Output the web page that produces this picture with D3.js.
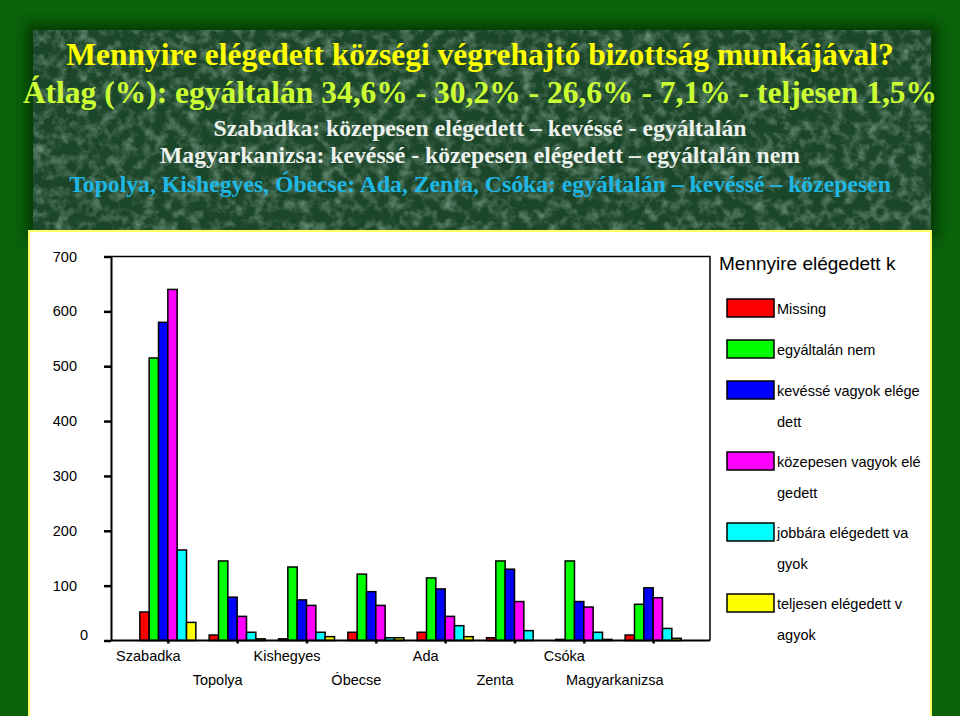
<!DOCTYPE html>
<html><head><meta charset="utf-8">
<script src="https://cdn.jsdelivr.net/npm/d3@7/dist/d3.min.js"></script>
<style>html,body{margin:0;padding:0;background:#0a600a}svg{display:block}</style>
</head><body>
<svg id="c" width="960" height="716"></svg>
<script>
// ---------- data ----------
const categories = ["Szabadka","Topolya","Kishegyes","Óbecse","Ada","Zenta","Csóka","Magyarkanizsa"];
const seriesNames = ["Missing","egyáltalán nem","kevéssé vagyok elégedett","közepesen vagyok elégedett","jobbára elégedett vagyok","teljesen elégedett vagyok"];
const seriesColors = ["#ff0000","#00ff00","#0000ff","#ff00ff","#00ffff","#ffff00"];
const missing       = [52, 10,   3,  15,  15,   5,   2,  10];
const egyaltalanNem = [515, 145, 134, 121, 114, 145, 145, 66];
const kevesse       = [580, 79,  74,  89,  94,  130, 71,  96];
const kozepesen     = [640, 44,  64,  64,  44,  71,  61,  78];
const jobbara       = [165, 15,  15,  5,   27,  18,  15,  22];
const teljesen      = [33,  3,   7,   5,   7,   0,   2,   4];
const yTicks = [0,100,200,300,400,500,600,700];
const legendTitle = "Mennyire elégedett községi végrehajtó bizottság munkájával";
const titleLines = [
  "Mennyire elégedett községi végrehajtó bizottság munkájával?",
  "Átlag (%): egyáltalán 34,6% - 30,2% - 26,6% - 7,1% - teljesen 1,5%",
  "Szabadka: közepesen elégedett – kevéssé - egyáltalán",
  "Magyarkanizsa: kevéssé - közepesen elégedett – egyáltalán nem",
  "Topolya, Kishegyes, Óbecse: Ada, Zenta, Csóka: egyáltalán – kevéssé – közepesen"
];

const seriesValues = [missing, egyaltalanNem, kevesse, kozepesen, jobbara, teljesen];
const table = [];
categories.forEach((c, i) => seriesNames.forEach((s, j) => table.push({cat: c, ser: s, val: seriesValues[j][i], color: seriesColors[j]})));

// ---------- canvas ----------
const svg = d3.select("#c");
const defs = svg.append("defs");
const f = defs.append("filter").attr("id","tex").attr("x",0).attr("y",0).attr("width",1).attr("height",1);
f.append("feTurbulence").attr("type","fractalNoise").attr("baseFrequency","0.09").attr("numOctaves",4).attr("seed",7).attr("result","n");
f.append("feColorMatrix").attr("in","n").attr("type","matrix")
  .attr("values","0 0 0 0 0.32  0 0 0 0 0.50  0 0 0 0 0.38  2.0 0 0 0 -0.85");
const sh = defs.append("filter").attr("id","sh").attr("x","-10%").attr("y","-10%").attr("width","120%").attr("height","120%");
sh.append("feGaussianBlur").attr("stdDeviation",6);

svg.append("rect").attr("width",960).attr("height",716).attr("fill","#0a620a");
svg.append("rect").attr("x",26).attr("y",24).attr("width",912).attr("height",214).attr("fill","#002a00").attr("opacity",0.7).attr("filter","url(#sh)");
svg.append("rect").attr("x",33).attr("y",30).attr("width",898).attr("height",202).attr("fill","#1c462a");
svg.append("rect").attr("x",33).attr("y",30).attr("width",898).attr("height",202).attr("fill","#000").attr("filter","url(#tex)").attr("opacity",0.65);
svg.append("rect").attr("x",29).attr("y",231).attr("width",902).attr("height",490)
  .attr("fill","#ffffff").attr("stroke","#ffff66").attr("stroke-width",2);

// ---------- titles ----------
const tStyles = [
  {size: 31.5, fill: "#ffff00", y: 65},
  {size: 31.5, fill: "#ccff33", y: 103},
  {size: 23.7, fill: "#eef2ee", y: 136},
  {size: 23.7, fill: "#eef2ee", y: 163},
  {size: 23.7, fill: "#1fb8e6", y: 192}
];
svg.append("g").selectAll("text").data(titleLines).join("text")
  .attr("x", 480).attr("y", (d,i) => tStyles[i].y)
  .attr("text-anchor","middle")
  .attr("font-family","'Liberation Serif','Times New Roman',serif").attr("font-weight","bold")
  .attr("font-size", (d,i) => tStyles[i].size).attr("fill", (d,i) => tStyles[i].fill)
  .text(d => d);

// ---------- scales ----------
const plot = {left: 111, right: 710, top: 256.5, bottom: 640.5};
const x = d3.scalePoint().domain(categories).range([plot.left, plot.right]).padding(0.82);
const xs = d3.scaleBand().domain(seriesNames).range([-28, 28]);
const y = d3.scaleLinear().domain([0, 700]).range([plot.bottom, plot.top]);
const font = "'Liberation Sans',Arial,sans-serif";

// frame (top & right)
svg.append("path").attr("d", `M${plot.left},${plot.top}H${plot.right}V${plot.bottom}`)
  .attr("fill","none").attr("stroke","#000").attr("stroke-width",1.5);

// bars
svg.append("g").selectAll("rect").data(table.filter(d => d.val > 0)).join("rect")
  .attr("x", d => x(d.cat) + xs(d.ser))
  .attr("y", d => y(d.val))
  .attr("width", xs.bandwidth())
  .attr("height", d => y(0) - y(d.val))
  .attr("fill", d => d.color).attr("stroke","#000").attr("stroke-width",1.5);

// y axis
const ya = svg.append("g").attr("transform", `translate(${plot.left},0)`)
  .call(d3.axisLeft(y).tickValues(yTicks).tickSize(7).tickSizeOuter(0).tickPadding(27).tickFormat(d3.format("d")));
ya.select(".domain").attr("stroke-width",2);
ya.selectAll(".tick line").attr("stroke-width",2.5);
ya.selectAll(".tick text").attr("font-family",font).attr("font-size",14.5).attr("fill","#000");
ya.selectAll(".tick text").filter(d => d === 0).attr("x", -23).attr("dy","-0.05em");

// x axis
const xa = svg.append("g").attr("transform", `translate(0,${plot.bottom})`)
  .call(d3.axisBottom(x).tickSize(3).tickSizeOuter(0).tickPadding(0));
xa.select(".domain").attr("d", `M${plot.left},0H${plot.right}`).attr("stroke-width",2);
xa.selectAll(".tick line").attr("stroke-width",2.5);
xa.selectAll(".tick text").attr("font-family",font).attr("font-size",14.5).attr("fill","#000")
  .attr("dy", null)
  .attr("y", (d,i) => i % 2 === 0 ? 20.5 : 44.5)
  .attr("x", function(d) {
    const w = this.getComputedTextLength();
    const cx = x(d) - 20;
    const maxRight = plot.right - 47;
    return Math.min(cx, maxRight - w/2) - x(d);
  });

// legend
const wrap = (s, n) => { const out = []; for (let k = 0; k < s.length; k += n) out.push(s.slice(k, k + n)); return out; };
svg.append("text").attr("x", 719).attr("y", 270).attr("font-family",font).attr("font-size",19).attr("fill","#000")
  .text(legendTitle.slice(0, 20));
let ly = 299;
seriesNames.forEach((s, j) => {
  const g = svg.append("g").attr("transform", `translate(727,${ly})`);
  g.append("rect").attr("width",47).attr("height",18).attr("fill",seriesColors[j]).attr("stroke","#000").attr("stroke-width",1.5);
  const lines = wrap(s, 20);
  g.selectAll("text").data(lines).join("text")
    .attr("x", 50).attr("y", (d,k) => 15 + k*30.5)
    .attr("font-family",font).attr("font-size",14.5).attr("fill","#000").text(d => d);
  ly += 41 + 30 * (lines.length - 1);
});
</script>
</body></html>
